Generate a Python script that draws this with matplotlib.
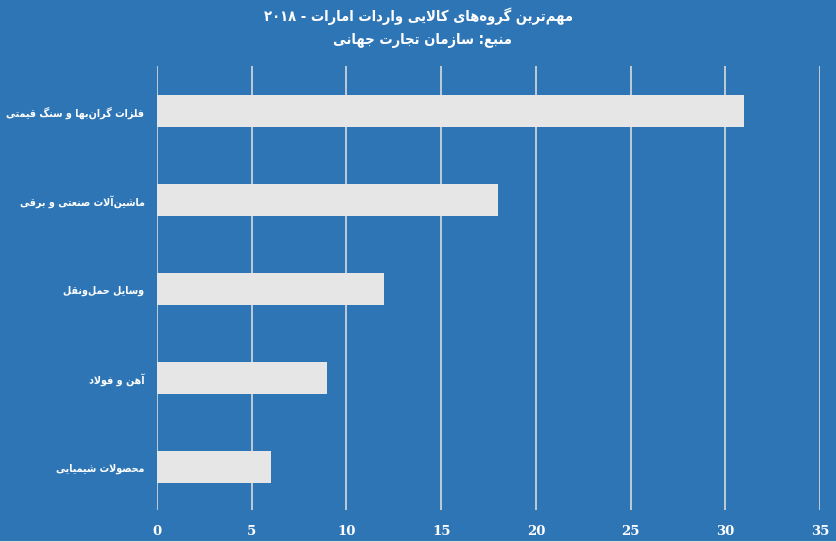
import matplotlib
matplotlib.use('Agg')
import matplotlib.pyplot as plt
from matplotlib.lines import Line2D

# data (top to bottom)
categories = ['فلزات گران‌بها و سنگ قیمتی', 'ماشین‌آلات صنعتی و برقی', 'وسایل حمل‌ونقل',
              'آهن و فولاد', 'محصولات شیمیایی']
values = [31, 18, 12, 9, 6]
x_ticks = [0, 5, 10, 15, 20, 25, 30, 35]
title = 'مهم‌ترین گروه‌های کالایی واردات امارات - ۲۰۱۸'
subtitle = 'منبع: سازمان تجارت جهانی'

# small Persian shaping table, no reshaper package in the sandbox
# letter -> (isolated, final, initial, medial); two entries = joins to the right only
FORMS = {
    'ا': (0xFE8D, 0xFE8E), 'آ': (0xFE81, 0xFE82), 'د': (0xFEA9, 0xFEAA), 'ذ': (0xFEAB, 0xFEAC),
    'ر': (0xFEAD, 0xFEAE), 'ز': (0xFEAF, 0xFEB0), 'ژ': (0xFB8A, 0xFB8B), 'و': (0xFEED, 0xFEEE),
    'ب': (0xFE8F, 0xFE90, 0xFE91, 0xFE92), 'پ': (0xFB56, 0xFB57, 0xFB58, 0xFB59),
    'ت': (0xFE95, 0xFE96, 0xFE97, 0xFE98), 'ث': (0xFE99, 0xFE9A, 0xFE9B, 0xFE9C),
    'ج': (0xFE9D, 0xFE9E, 0xFE9F, 0xFEA0), 'چ': (0xFB7A, 0xFB7B, 0xFB7C, 0xFB7D),
    'ح': (0xFEA1, 0xFEA2, 0xFEA3, 0xFEA4), 'خ': (0xFEA5, 0xFEA6, 0xFEA7, 0xFEA8),
    'س': (0xFEB1, 0xFEB2, 0xFEB3, 0xFEB4), 'ش': (0xFEB5, 0xFEB6, 0xFEB7, 0xFEB8),
    'ص': (0xFEB9, 0xFEBA, 0xFEBB, 0xFEBC), 'ض': (0xFEBD, 0xFEBE, 0xFEBF, 0xFEC0),
    'ط': (0xFEC1, 0xFEC2, 0xFEC3, 0xFEC4), 'ظ': (0xFEC5, 0xFEC6, 0xFEC7, 0xFEC8),
    'ع': (0xFEC9, 0xFECA, 0xFECB, 0xFECC), 'غ': (0xFECD, 0xFECE, 0xFECF, 0xFED0),
    'ف': (0xFED1, 0xFED2, 0xFED3, 0xFED4), 'ق': (0xFED5, 0xFED6, 0xFED7, 0xFED8),
    'ک': (0xFB8E, 0xFB8F, 0xFB90, 0xFB91), 'گ': (0xFB92, 0xFB93, 0xFB94, 0xFB95),
    'ل': (0xFEDD, 0xFEDE, 0xFEDF, 0xFEE0), 'م': (0xFEE1, 0xFEE2, 0xFEE3, 0xFEE4),
    'ن': (0xFEE5, 0xFEE6, 0xFEE7, 0xFEE8), 'ه': (0xFEE9, 0xFEEA, 0xFEEB, 0xFEEC),
    'ی': (0xFBFC, 0xFBFD, 0xFBFE, 0xFBFF),
}
LAM_ALEF = {'ا': (0xFEFB, 0xFEFC), 'آ': (0xFEF5, 0xFEF6)}


def shape(text):
    chars = []
    i = 0
    while i < len(text):
        if text[i] == 'ل' and i + 1 < len(text) and text[i + 1] in LAM_ALEF:
            chars.append(('LA', text[i + 1]))
            i += 2
        else:
            chars.append((text[i], None))
            i += 1

    def forms(c):
        if c[0] == 'LA':
            return LAM_ALEF[c[1]]
        return FORMS.get(c[0])

    def joins_next(c):
        f = forms(c)
        return f is not None and len(f) == 4

    out = []
    for k, c in enumerate(chars):
        f = forms(c)
        if f is None:
            if c[0] != '\u200c':
                out.append(c[0])
            continue
        prev_j = k > 0 and joins_next(chars[k - 1])
        next_j = (len(f) == 4 and k + 1 < len(chars) and forms(chars[k + 1]) is not None)
        if prev_j and next_j:
            g = f[3]
        elif prev_j:
            g = f[1]
        elif next_j:
            g = f[2]
        else:
            g = f[0]
        out.append(chr(g))
    vis = ''.join(out)[::-1]
    # digits stay left to right
    res, run = '', ''
    for ch in vis:
        if '\u06f0' <= ch <= '\u06f9' or ch.isdigit():
            run += ch
        else:
            res += run[::-1] + ch
            run = ''
    return res + run[::-1]


bg = '#2E75B6'
plt.rcParams['font.family'] = ['DejaVu Sans']

fig = plt.figure(figsize=(8.36, 5.42), dpi=100, facecolor=bg)
ax = fig.add_axes([157 / 836, 1 - 510 / 542, (820 - 157) / 836, (510 - 66) / 542])
ax.set_facecolor(bg)

pos = list(range(len(categories)))
ax.barh(pos, values, height=0.36, color='#E6E6E6', zorder=3)
ax.set_ylim(4.48, -0.51)
ax.set_xlim(0, 35)
ax.set_xticks(x_ticks)
ax.set_xticklabels([str(t) for t in x_ticks], fontfamily='DejaVu Serif',
                   fontweight='bold', fontsize=9.5, color='white')
ax.set_yticks(pos)
ax.set_yticklabels([shape(c) for c in categories], fontsize=7.7, fontweight='bold',
                   fontstretch='condensed', color='white')
ax.tick_params(axis='x', length=0, pad=11)
ax.tick_params(axis='y', length=0, pad=9)
ax.grid(axis='x', color='#D9D9D9', linewidth=1.2, zorder=0)
for s in ax.spines.values():
    s.set_visible(False)

fig.text(0.5, 1 - 16 / 542, shape(title), ha='center', va='center', fontstretch='condensed',
         fontsize=10.5, fontweight='bold', color='white')
fig.text(0.505, 1 - 40 / 542, shape(subtitle), ha='center', va='center', fontstretch='condensed',
         fontsize=10.5, fontweight='bold', color='white')
fig.add_artist(Line2D([0, 1], [0.5 / 542, 0.5 / 542], transform=fig.transFigure,
                      color='#D9D9D9', linewidth=1.5))

fig.savefig('out.png', dpi=100, facecolor=bg)
